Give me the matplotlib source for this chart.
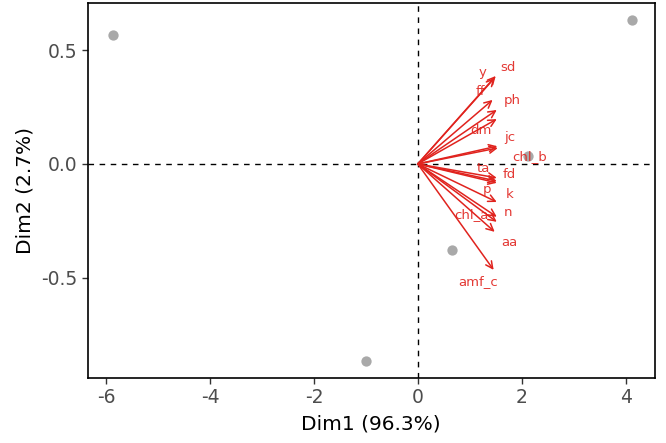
import matplotlib.pyplot as plt

# individuals (PCA scores)
ind_x = [-5.87, 4.12, -1.0, 0.65, 2.12]
ind_y = [0.566, 0.632, -0.864, -0.377, 0.035]

# variables (arrow tips)
var_names = ["y", "sd", "ff", "ph", "dm", "jc", "chl_b", "ta", "fd", "p", "k", "chl_a", "n", "aa", "amf_c"]
var_x = [1.48, 1.50, 1.44, 1.52, 1.52, 1.54, 1.53, 1.52, 1.52, 1.52, 1.52, 1.52, 1.52, 1.48, 1.46]
var_y = [0.378, 0.386, 0.281, 0.237, 0.197, 0.070, 0.078, -0.061, -0.075, -0.083, -0.167, -0.232, -0.254, -0.298, -0.465]

# where the labels ended up (repelled)
lab_x = [1.25, 1.73, 1.21, 1.81, 1.21, 1.77, 2.15, 1.27, 1.77, 1.33, 1.77, 1.04, 1.73, 1.77, 1.17]
lab_y = [0.400, 0.425, 0.316, 0.280, 0.145, 0.114, 0.031, -0.018, -0.048, -0.114, -0.132, -0.224, -0.215, -0.346, -0.518]

red = "#E0231E"

fig = plt.figure(figsize=(6.66, 4.43), dpi=100)
ax = fig.add_axes([0.132, 0.147, 0.851, 0.846])

ax.axhline(0, color="black", lw=1, ls=(0, (4, 4)), zorder=1)
ax.axvline(0, color="black", lw=1, ls=(0, (4, 4)), zorder=1)

ax.scatter(ind_x, ind_y, s=55, color="#A9A9A9", zorder=2, linewidths=0)

for i in range(len(var_names)):
    ax.annotate("", xy=(var_x[i], var_y[i]), xytext=(0, 0),
                arrowprops=dict(arrowstyle="->,head_length=0.5,head_width=0.25",
                                color=red, lw=1.1, shrinkA=0, shrinkB=0), zorder=3)
    ax.text(lab_x[i], lab_y[i], var_names[i], color=red, fontsize=9.5,
            ha="center", va="center", alpha=0.9, zorder=4)

ax.set_xlim(-6.35, 4.56)
ax.set_ylim(-0.939, 0.706)
ax.set_xticks([-6, -4, -2, 0, 2, 4])
ax.set_yticks([-0.5, 0.0, 0.5])
ax.set_yticklabels(["-0.5", "0.0", "0.5"])
ax.set_xticklabels(["-6", "-4", "-2", "0", "2", "4"])
ax.tick_params(labelsize=13.5, labelcolor="#4D4D4D", length=4, width=1, color="#333333")
ax.set_xlabel("Dim1 (96.3%)", fontsize=14.5, color="black", labelpad=5)
ax.set_ylabel("Dim2 (2.7%)", fontsize=14.5, color="black", labelpad=5)
for s in ax.spines.values():
    s.set_linewidth(1.2)

fig.savefig("out.png", dpi=100)
